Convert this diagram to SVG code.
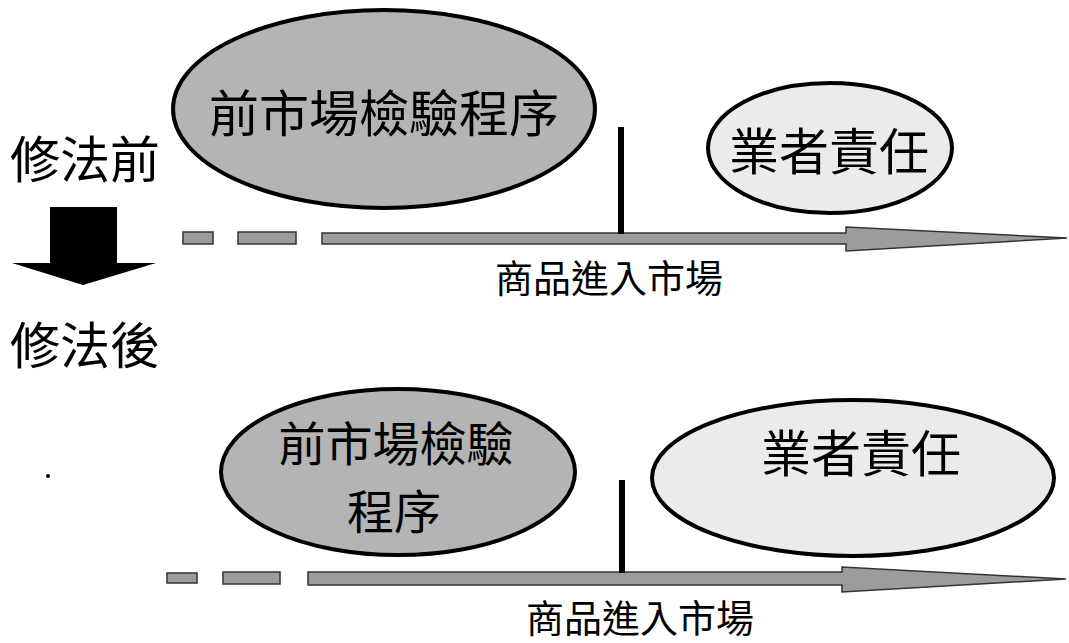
<svg xmlns="http://www.w3.org/2000/svg" width="1069" height="643" viewBox="0 0 1069 643">
<style>
.t{font-family:"Noto Sans CJK TC","Noto Sans CJK SC",sans-serif;fill:#000;text-anchor:middle}
.big{font-size:50px}
.b2{font-size:47px}
.mid{font-size:38px}
.e1{fill:#b4b4b4;stroke:#000;stroke-width:4}
.e2{fill:#ebebeb;stroke:#000;stroke-width:4}
.bar{fill:#9c9c9c;stroke:#333;stroke-width:1.5}
.tick{stroke:#000;stroke-width:6}
</style>
<rect width="1069" height="643" fill="#fff"/>
<g id="label-before"><text class="t big" x="85" y="178">修法前</text></g>
<g id="label-after"><text class="t big" x="85" y="364">修法後</text></g>
<g id="down-arrow"><polygon points="50,207 117,207 117,263 156,263 83,285 12,263 50,263" fill="#000"/></g>
<g id="node-premarket-1">
<ellipse class="e1" cx="384" cy="109" rx="211" ry="99"/>
<text class="t big" x="384" y="132">前市場檢驗程序</text>
</g>
<g id="node-vendor-1">
<ellipse class="e2" cx="830" cy="148" rx="122" ry="65"/>
<text class="t big" x="829" y="170">業者責任</text>
</g>
<g id="node-premarket-2">
<ellipse class="e1" cx="398" cy="472" rx="177" ry="83"/>
<text class="t b2" x="396" y="461">前市場檢驗</text>
<text class="t b2" x="394" y="529">程序</text>
</g>
<g id="node-vendor-2">
<ellipse class="e2" cx="853" cy="478" rx="201" ry="78"/>
<text class="t big" x="861" y="472">業者責任</text>
</g>
<g id="connectors">
<rect class="bar" x="183" y="232" width="30" height="12"/>
<rect class="bar" x="238" y="232" width="58" height="12"/>
<path class="bar" d="M322,233 L846,233 L846,227 L1067,238 L846,251 L846,244 L322,244 Z"/>
<line class="tick" x1="621" y1="127" x2="621" y2="234"/>
<rect class="bar" x="167" y="573" width="30" height="10"/>
<rect class="bar" x="223" y="572" width="57" height="12"/>
<path class="bar" d="M308,572 L842,572 L842,567 L1066,579 L842,592 L842,585 L308,585 Z"/>
<line class="tick" x1="622" y1="480" x2="622" y2="573"/>
</g>
<g id="label-market-1"><text class="t mid" x="609" y="292">商品進入市場</text></g>
<g id="label-market-2"><text class="t mid" x="640" y="632">商品進入市場</text></g>
<circle cx="48" cy="476" r="2" fill="#000"/>
</svg>
